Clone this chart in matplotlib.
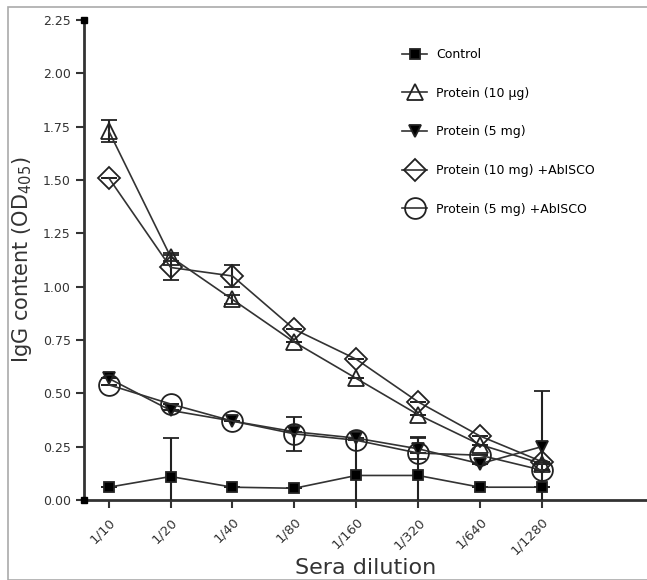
import matplotlib.pyplot as plt
from matplotlib.patches import Rectangle
from matplotlib.lines import Line2D

# diluciones
dilutions = ['1/10', '1/20', '1/40', '1/80', '1/160', '1/320', '1/640', '1/1280']

control = [0.06, 0.11, 0.06, 0.055, 0.115, 0.115, 0.06, 0.06]
control_err = [0, 0.18, 0, 0, 0.17, 0.18, 0, 0]

prot10ug = [1.73, 1.14, 0.94, 0.74, 0.57, 0.40, 0.26, 0.17]
prot10ug_err = [0.05, 0.02, 0.02, 0, 0, 0, 0, 0]

prot5mg = [0.57, 0.42, 0.37, 0.32, 0.29, 0.24, 0.17, 0.25]
prot5mg_err = [0, 0, 0, 0, 0, 0.05, 0, 0.26]

prot10mg_ab = [1.51, 1.09, 1.05, 0.80, 0.66, 0.46, 0.30, 0.18]
prot10mg_ab_err = [0, 0.06, 0.05, 0, 0, 0, 0, 0]

prot5mg_ab = [0.54, 0.45, 0.37, 0.31, 0.28, 0.22, 0.21, 0.14]
prot5mg_ab_err = [0, 0, 0, 0.08, 0, 0, 0, 0]

fig = plt.figure(figsize=(6.47, 5.8), dpi=100)
ax = fig.add_axes([84 / 647, 80 / 580, 1 - 84 / 647, 480 / 580])

# marco gris de la figura
fig.patches.append(Rectangle((8 / 647, 0), 1, 1 - 7 / 580, transform=fig.transFigure,
                             fill=False, edgecolor='#aaaaaa', linewidth=1.2))

x = list(range(len(dilutions)))
series = [
    (control, control_err, 's', 'black', 'Control', 7.5),
    (prot10ug, prot10ug_err, '^', 'none', 'Protein (10 \u00b5g)', 11),
    (prot5mg, prot5mg_err, 'v', 'black', 'Protein (5 mg)', 9),
    (prot10mg_ab, prot10mg_ab_err, 'D', 'none', 'Protein (10 mg) +AbISCO', 11),
    (prot5mg_ab, prot5mg_ab_err, 'o', 'none', 'Protein (5 mg) +AbISCO', 15),
]
handles = []
for vals, err, mk, fc, lab, ms in series:
    ax.errorbar(x, vals, yerr=err, marker=mk, markersize=ms, markerfacecolor=fc,
                markeredgecolor='#222222', markeredgewidth=1.3, color='#333333',
                linewidth=1.2, elinewidth=1.5, ecolor='#222222', capsize=6, capthick=1.5,
                zorder=3)
    handles.append(Line2D([], [], marker=mk, markersize=ms, markerfacecolor=fc,
                          markeredgecolor='#222222', markeredgewidth=1.3,
                          color='#333333', linewidth=1.2, label=lab))

ax.set_xlim(-0.4, 8.7)
ax.set_ylim(0, 2.25)
ax.set_yticks([0, 0.25, 0.5, 0.75, 1.0, 1.25, 1.5, 1.75, 2.0, 2.25])
ax.set_yticklabels(['0.00', '0.25', '0.50', '0.75', '1.00', '1.25', '1.50', '1.75', '2.00', '2.25'])
ax.set_xticks(x)
ax.set_xticklabels(dilutions, rotation=45, ha='right', rotation_mode='anchor')
ax.tick_params(axis='both', direction='out', length=6, width=1.5, labelsize=9, colors='#333333')
ax.tick_params(axis='x', pad=5, labelsize=9.5)

for s in ['top', 'right']:
    ax.spines[s].set_visible(False)
for s in ['left', 'bottom']:
    ax.spines[s].set_linewidth(2)
    ax.spines[s].set_color('#333333')

# cuadraditos en los extremos del eje y
ax.plot([-0.4, -0.4], [0, 2.25], 's', color='black', markersize=5, clip_on=False, zorder=5)

ax.set_ylabel('IgG content (OD$_{405}$)', fontsize=15, color='#333333', labelpad=6)
ax.set_xlabel('Sera dilution', fontsize=16, color='#333333', labelpad=0)

leg = ax.legend(handles=handles, loc='upper left', bbox_to_anchor=(0.545, 0.965), frameon=False,
                fontsize=9, labelspacing=2.05, handlelength=2.0, handletextpad=0.7, numpoints=1)

fig.savefig('out.png', dpi=100)
